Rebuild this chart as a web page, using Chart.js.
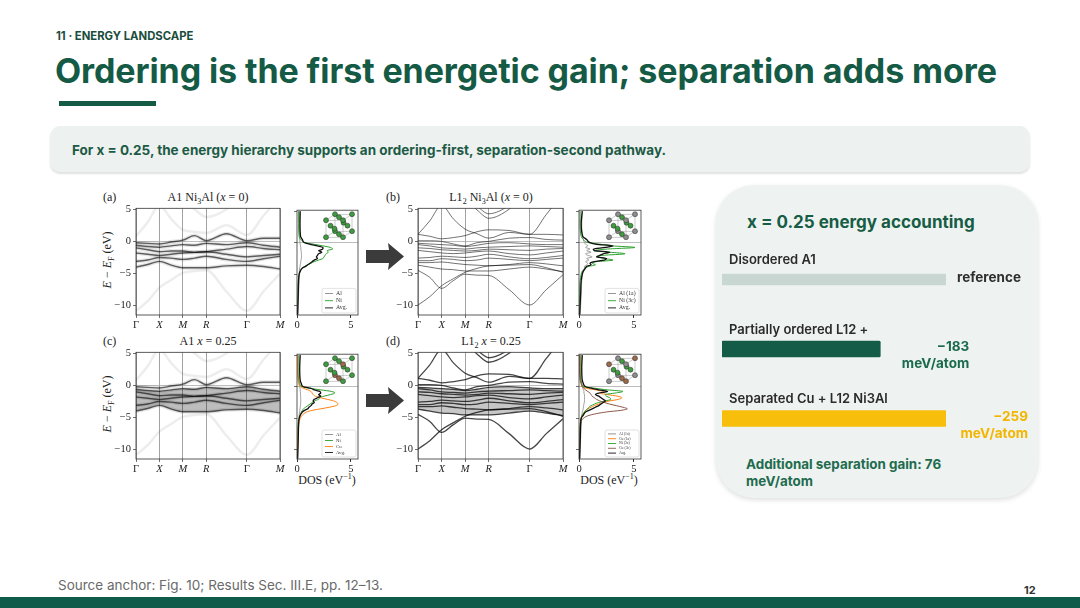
<!DOCTYPE html>
<html>
<head>
<meta charset="utf-8">
<script src="https://cdn.jsdelivr.net/npm/chart.js@4.4.1/dist/chart.umd.min.js"></script>
<style>
body{margin:0;width:1080px;height:608px;position:relative;overflow:hidden;background:#fff;font-family:Inter,'Noto Sans',sans-serif;}
.abs{position:absolute;white-space:nowrap;}
canvas{position:absolute;}
.fig{font-family:'Liberation Serif',serif;font-size:12px;color:#222;line-height:12px;}
.fig sub,.fig sup{font-size:8px;line-height:0;}
</style>
</head>
<body>
<div class="abs" style="left:56px;top:29px;font-size:11.3px;line-height:14px;font-weight:700;color:#1b4d3d">11 · ENERGY LANDSCAPE</div>
<div class="abs" style="left:55px;top:49px;font-size:34px;line-height:44px;font-weight:700;color:#145a45;letter-spacing:-0.1px">Ordering is the first energetic gain; separation adds more</div>
<div class="abs" style="left:59px;top:101px;width:97px;height:5px;background:#145a45"></div>
<div class="abs" style="left:50px;top:126px;width:980px;height:46px;border-radius:10px;background:#edf2f0;box-shadow:0 2px 2px rgba(0,0,0,0.12)"></div>
<div class="abs" style="left:72px;top:140px;font-size:13.5px;line-height:20px;font-weight:700;color:#1d5a45">For x = 0.25, the energy hierarchy supports an ordering-first, separation-second pathway.</div>

<div class="abs" style="left:716px;top:185px;width:322px;height:313px;border-radius:38px;background:#eef3f1;box-shadow:0 2px 5px rgba(0,0,0,0.13)"></div>
<div class="abs" style="left:747px;top:210px;font-size:17px;line-height:24px;font-weight:700;color:#175c45">x = 0.25 energy accounting</div>
<div class="abs" id="gainNote" style="left:746px;top:456px;font-size:13.4px;line-height:17px;font-weight:700;color:#1f6b4f"></div>

<div class="abs" style="left:58px;top:577px;font-size:13.5px;line-height:16px;color:#6a6a6a">Source anchor: Fig. 10; Results Sec. III.E, pp. 12–13.</div>
<div class="abs" style="left:1024px;top:583px;font-size:11px;line-height:14px;font-weight:700;color:#333">12</div>
<div class="abs" style="left:0;top:597px;width:1080px;height:11px;background:#0f5c4a"></div>

<!-- figure labels -->
<div class="abs fig" style="left:103px;top:191px">(a)</div>
<div class="abs fig" style="left:208px;top:191px;transform:translateX(-50%)">A1 Ni<sub>3</sub>Al (<i>x</i> = 0)</div>
<div class="abs fig" style="left:386px;top:191px">(b)</div>
<div class="abs fig" style="left:491px;top:191px;transform:translateX(-50%)">L1<sub>2</sub> Ni<sub>3</sub>Al (<i>x</i> = 0)</div>
<div class="abs fig" style="left:103px;top:335px">(c)</div>
<div class="abs fig" style="left:208px;top:335px;transform:translateX(-50%)">A1 <i>x</i> = 0.25</div>
<div class="abs fig" style="left:386px;top:335px">(d)</div>
<div class="abs fig" style="left:491px;top:335px;transform:translateX(-50%)">L1<sub>2</sub> <i>x</i> = 0.25</div>
<div class="abs fig" style="left:107px;top:260px;transform:translate(-50%,-50%) rotate(-90deg)"><i>E</i> − <i>E</i><sub>F</sub> (eV)</div>
<div class="abs fig" style="left:107px;top:404px;transform:translate(-50%,-50%) rotate(-90deg)"><i>E</i> − <i>E</i><sub>F</sub> (eV)</div>
<div class="abs fig" style="left:327px;top:474px;transform:translateX(-50%)">DOS (eV<sup>−1</sup>)</div>
<div class="abs fig" style="left:609px;top:474px;transform:translateX(-50%)">DOS (eV<sup>−1</sup>)</div>
<svg class="abs" style="left:360px;top:236px" width="50" height="180">
  <polygon points="6,14 29,14 28,7 44,20.5 28,34 29,27 6,27" fill="#3b3b3b"/>
  <polygon points="6,158 29,158 28,151 44,164.5 28,178 29,171 6,171" fill="#3b3b3b"/>
</svg>

<script>
// ---- energy accounting (x = 0.25) ----
const stages = ['Disordered A1', 'Partially ordered L12 +', 'Separated Cu + L12 Ni3Al'];
const energyGain = [0, -183, -259];   // meV/atom relative to disordered A1
const gainUnit = 'meV/atom';

// ---- band structure path ----
const kPath = [0, 0.25, 0.5, 0.75, 1.0, 1.25, 1.5, 1.93, 2.366, 2.72, 3.073];
const kTicks = [0, 0.5, 1.0, 1.5, 2.366, 3.073];
const kLabels = ['Γ', 'X', 'M', 'R', 'Γ', 'M'];
const eTicks = [5, 0, -5, -10];

// A1 (disordered) spectral bands, eV
const bandsA1 = [
  [-0.2, -0.3, -0.4, -0.1, 0.2, 0.9, 0.1, 1.2, 0.1, 0.5, 0.5],
  [-0.6, -0.8, -0.9, -0.7, -0.5, -0.6, -0.3, -0.5, -0.2, -0.6, -0.9],
  [-1.0, -1.3, -1.6, -1.5, -1.5, -1.7, -1.6, -1.2, -0.8, -1.1, -1.3],
  [-1.8, -2.0, -2.2, -2.0, -1.8, -1.7, -1.6, -2.0, -2.4, -2.2, -2.0],
  [-3.1, -2.9, -2.5, -2.6, -2.8, -2.6, -2.3, -2.8, -3.1, -2.7, -2.3],
  [-4.0, -3.6, -3.1, -3.7, -4.1, -4.1, -4.1, -3.8, -3.7, -3.9, -4.3]
];
const bandsA1Faint = [
  [-10.8, -9.3, -7.2, -6.0, -4.9, -4.6, -4.5, -7.8, -10.8, -7.8, -5.0],
  [0.8, 3.0, 5.6, 3.5, 1.8, 1.5, 1.3, 2.5, 1.0, 4.0, 7.0],
  [9, 9, 9, 8, 6.5, 5.0, 3.8, 5.0, 8, 9, 9]
];
// L12 (ordered) bands, eV
const bandsL12 = [
  [-9.9, -8.6, -6.9, -5.8, -4.8, -4.2, -3.8, -3.7, -3.6, -4.1, -4.8],
  [-4.5, -5.6, -7.3, -6.1, -5.1, -5.25, -5.3, -7.5, -9.9, -7.5, -5.2],
  [1.1, 3.2, 5.6, 3.5, 1.9, 1.2, 0.5, 1.4, 1.1, 1.1, 1.0],
  [1.1, 0.8, 0.4, 0.6, 0.9, 1.5, 1.8, 1.7, 1.1, 4.2, 7.5],
  [9, 9, 9, 8, 6.5, 4.9, 3.6, 5.0, 8, 9, 9],
  [9, 9, 9, 8.5, 7, 5.5, 4.3, 5.6, 8.5, 9, 9],
  [0.1, 0.1, 0.0, -0.4, -0.7, -0.2, 0.0, 0.5, 0.6, 0.3, 0.2],
  [-0.3, -0.4, -0.5, -0.6, -0.8, -0.6, -0.3, -0.2, -0.4, -0.5, -0.5],
  [-0.5, -0.7, -1.0, -1.1, -1.2, -1.0, -0.9, -0.8, -0.7, -0.8, -0.9],
  [-1.0, -1.1, -1.3, -1.4, -1.5, -1.4, -1.2, -1.3, -1.4, -1.2, -1.1],
  [-1.4, -1.6, -1.8, -1.9, -1.8, -1.6, -1.5, -1.9, -2.1, -1.8, -1.5],
  [-2.6, -2.5, -2.3, -2.4, -2.5, -2.3, -2.0, -2.4, -2.7, -2.5, -2.2],
  [-3.0, -3.0, -2.7, -2.8, -3.0, -2.9, -2.6, -2.8, -3.0, -2.8, -2.6],
  [-3.3, -3.3, -3.2, -3.4, -3.6, -3.7, -3.8, -3.6, -3.3, -3.5, -3.8],
  [-3.7, -4.0, -4.3, -4.4, -4.6, -4.6, -4.6, -4.3, -4.0, -4.3, -4.7]
];

// ---- projected DOS, eV^-1 ----
const dosE = [5, 3, 1, 0.5, 0, -0.25, -0.5, -0.75, -1, -1.25, -1.5, -1.75, -2, -2.25, -2.5, -2.75, -3, -3.25, -3.5, -3.75, -4, -4.5, -5, -6, -8, -10, -11.4];
const dosA_Al  = [0.25,0.22,0.22,0.25,0.28,0.3,0.32,0.35,0.36,0.38,0.4,0.4,0.42,0.42,0.4,0.38,0.35,0.33,0.3,0.28,0.25,0.22,0.2,0.18,0.15,0.12,0.1];
const dosA_Ni  = [0.15,0.15,0.2,0.35,0.8,1.6,2.4,3.1,3.3,2.8,2.9,2.7,2.6,2.5,2.4,2.0,1.6,1.3,1.0,0.7,0.5,0.3,0.2,0.12,0.08,0.05,0.03];
const dosA_Avg = [0.3,0.28,0.33,0.5,0.7,1.2,1.9,2.4,2.4,2.0,2.3,2.0,1.9,1.8,1.9,1.6,1.4,1.2,1.0,0.8,0.5,0.3,0.2,0.15,0.12,0.08,0.05];
const dosB_Al  = [0.3,0.25,0.3,0.4,0.5,0.6,0.8,0.6,1.0,0.7,1.1,0.6,0.8,1.2,0.7,0.9,0.6,0.8,0.7,0.5,0.5,0.35,0.3,0.25,0.2,0.15,0.1];
const dosB_Ni  = [0.1,0.1,0.2,0.4,0.9,2.0,3.0,5.1,2.6,1.5,2.8,4.2,2.2,1.8,2.3,3.1,1.6,1.2,1.5,0.9,0.6,0.3,0.2,0.1,0.06,0.04,0.03];
const dosB_Avg = [0.3,0.2,0.35,0.7,1.0,1.6,3.1,2.4,1.3,1.4,2.8,2.2,1.9,1.6,2.5,2.3,1.4,1.0,1.1,0.7,0.6,0.4,0.3,0.2,0.15,0.1,0.06];
const dosC_Al  = [0.2,0.2,0.2,0.22,0.25,0.28,0.3,0.3,0.32,0.33,0.33,0.34,0.35,0.35,0.34,0.33,0.32,0.3,0.28,0.26,0.24,0.2,0.18,0.15,0.12,0.1,0.08];
const dosC_Ni  = [0.1,0.1,0.15,0.25,0.5,1.2,2.2,3.2,3.5,3.1,2.5,2.1,2.0,1.6,1.4,1.2,1.0,0.8,0.6,0.5,0.4,0.3,0.2,0.1,0.06,0.04,0.03];
const dosC_Cu  = [0.05,0.05,0.1,0.15,0.3,0.6,1.0,1.3,1.4,1.5,1.7,2.2,2.8,3.4,3.7,3.8,3.6,3.0,2.2,1.4,0.9,0.5,0.3,0.15,0.08,0.05,0.03];
const dosC_Avg = [0.3,0.25,0.3,0.4,0.6,1.3,1.6,2.1,2.2,2.0,2.2,1.9,1.6,1.5,1.6,1.4,1.3,1.1,1.0,0.7,0.5,0.3,0.2,0.15,0.12,0.08,0.05];
const dosD_Al   = [0.2,0.2,0.2,0.25,0.3,0.35,0.4,0.45,0.45,0.5,0.5,0.5,0.5,0.5,0.48,0.45,0.42,0.4,0.38,0.35,0.3,0.25,0.2,0.18,0.15,0.12,0.1];
const dosD_Cu1a = [0.1,0.1,0.15,0.2,0.3,0.7,1.5,2.2,1.9,2.6,3.5,3.9,3.6,2.8,2.2,1.8,1.4,1.1,0.8,0.6,0.5,0.3,0.2,0.1,0.06,0.04,0.03];
const dosD_Ni   = [0.1,0.1,0.15,0.25,0.5,1.5,2.6,4.0,3.3,2.4,2.5,2.8,2.9,2.4,1.8,1.4,1.1,0.9,0.8,0.6,0.5,0.3,0.2,0.1,0.06,0.04,0.03];
const dosD_Cu3c = [0.05,0.05,0.1,0.2,0.3,0.45,0.6,0.8,1.0,1.1,1.2,1.4,1.6,1.9,2.3,2.8,3.4,4.0,4.4,3.8,2.5,1.0,0.4,0.15,0.08,0.05,0.03];
const dosD_Avg  = [0.3,0.25,0.3,0.4,0.6,1.2,1.8,2.6,1.8,1.5,1.8,2.0,2.2,2.4,2.2,2.0,1.8,1.5,1.2,0.9,0.6,0.4,0.2,0.15,0.12,0.08,0.05];

const eMin = -11.45, eMax = 5.15, dosMax = 5.65;
const serif = 'Liberation Serif';
Chart.defaults.font.family = 'Inter';

function mk(left, top, w, h){
  var c = document.createElement('canvas');
  c.width = w; c.height = h;
  c.style.left = left + 'px'; c.style.top = top + 'px';
  c.style.width = w + 'px'; c.style.height = h + 'px';
  document.body.appendChild(c);
  return c;
}

const framePlugin = {
  id: 'frame',
  afterDatasetsDraw(chart){
    var a = chart.chartArea, ctx = chart.ctx;
    ctx.save();
    ctx.strokeStyle = '#333'; ctx.lineWidth = 0.8;
    ctx.strokeRect(a.left, a.top, a.right - a.left, a.bottom - a.top);
    ctx.restore();
  }
};

// small legend box in the corner of a DOS panel
const dosLegend = {
  id: 'dosLegend',
  afterDatasetsDraw(chart){
    var a = chart.chartArea, ctx = chart.ctx;
    var sets = chart.data.datasets;
    var n = sets.length;
    var rowH = Math.min(7.2, 24 / n);
    var w = 34, h = rowH * n + 3;
    var x0 = a.right - w - 2, y0 = a.bottom - h - 2;
    ctx.save();
    ctx.fillStyle = 'rgba(255,255,255,0.9)';
    ctx.strokeStyle = '#cfcfcf'; ctx.lineWidth = 0.6;
    ctx.beginPath(); ctx.roundRect(x0, y0, w, h, 2); ctx.fill(); ctx.stroke();
    ctx.font = (rowH * 0.8).toFixed(1) + 'px "' + serif + '"';
    ctx.textBaseline = 'middle';
    sets.forEach(function(ds, i){
      var y = y0 + 1.5 + rowH * (i + 0.5);
      ctx.strokeStyle = ds.borderColor; ctx.lineWidth = 0.9;
      ctx.beginPath(); ctx.moveTo(x0 + 3, y); ctx.lineTo(x0 + 11, y); ctx.stroke();
      ctx.fillStyle = '#333';
      ctx.fillText(ds.label, x0 + 14, y);
    });
    ctx.restore();
  }
};

// unit cell sketch in the top corner of a DOS panel
const crystal = {
  id: 'crystal',
  afterDatasetsDraw(chart, args, opts){
    if (!opts || !opts.colors) return;
    var a = chart.chartArea, ctx = chart.ctx;
    var s = 17, dx = 9, dy = 6;
    var x0 = a.right - 6 - s - dx, y0 = a.top + 4 + dy;
    var front = [[0,0],[s,0],[0,s],[s,s]];
    ctx.save();
    ctx.strokeStyle = '#999'; ctx.lineWidth = 0.5;
    front.forEach(function(p){
      ctx.beginPath(); ctx.moveTo(x0 + p[0], y0 + p[1]); ctx.lineTo(x0 + p[0] + dx, y0 + p[1] - dy); ctx.stroke();
    });
    ctx.strokeRect(x0, y0, s, s);
    ctx.strokeRect(x0 + dx, y0 - dy, s, s);
    var h = s / 2;
    var pts = [[dx,-dy],[s+dx,-dy],[dx,s-dy],[s+dx,s-dy],[h+dx,h-dy],
               [h+dx/2,-dy/2],[h+dx/2,s-dy/2],[dx/2,h-dy/2],[s+dx/2,h-dy/2],
               [h,h],[0,0],[s,0],[0,s],[s,s]];
    pts.forEach(function(p, i){
      ctx.beginPath(); ctx.arc(x0 + p[0], y0 + p[1], 2.5, 0, Math.PI * 2);
      ctx.fillStyle = opts.colors[i % opts.colors.length]; ctx.fill();
      ctx.strokeStyle = '#2a2a2a'; ctx.lineWidth = 0.5; ctx.stroke();
    });
    ctx.restore();
  }
};

function lineSet(band, color, width, extra){
  return Object.assign({
    data: kPath.map(function(k, i){ return {x: k, y: band[i]}; }),
    borderColor: color, borderWidth: width, pointRadius: 0, fill: false, clip: 0
  }, extra || {});
}

function bandChart(box, datasets){
  var padL = 36, padT = 4, padR = 8, padB = 16;
  var c = mk(box.left - padL, box.top - padT, box.w + padL + padR, box.h + padT + padB);
  return new Chart(c, {
    type: 'line',
    data: {datasets: datasets},
    options: {
      responsive: false, animation: false, events: [],
      layout: {padding: {top: padT, right: padR, left: 0, bottom: 0}},
      plugins: {legend: {display: false}, tooltip: {enabled: false}},
      elements: {line: {cubicInterpolationMode: 'monotone'}},
      scales: {
        x: {
          type: 'linear', min: 0, max: kTicks[kTicks.length - 1],
          afterBuildTicks: function(s){ s.ticks = kTicks.map(function(v){ return {value: v}; }); },
          afterFit: function(s){ s.height = padB; },
          ticks: {
            autoSkip: false, maxRotation: 0, padding: 1, color: '#222',
            font: function(ctx){ return {family: serif, size: 10.5, style: kLabels[ctx.index] === 'Γ' ? 'normal' : 'italic'}; },
            callback: function(v, i){ return kLabels[i]; }
          },
          grid: {color: '#7a7a7a', lineWidth: 0.7, tickLength: 3, tickColor: '#333'},
          border: {display: false}
        },
        y: {
          type: 'linear', min: eMin, max: eMax,
          afterBuildTicks: function(s){ s.ticks = eTicks.map(function(v){ return {value: v}; }); },
          afterFit: function(s){ s.width = padL; },
          ticks: {
            padding: 2, color: '#222', font: {family: serif, size: 10.5},
            callback: function(v){ return v < 0 ? '−' + Math.abs(v) : String(v); }
          },
          grid: {
            color: function(ctx){ return ctx.tick && ctx.tick.value === 0 ? '#a0a0a0' : 'rgba(0,0,0,0)'; },
            lineWidth: 0.7, tickLength: 3, tickColor: '#333'
          },
          border: {display: false}
        }
      }
    },
    plugins: [framePlugin]
  });
}

function dosSet(label, vals, color, width, order){
  return {
    label: label,
    data: dosE.map(function(e, i){ return {x: vals[i], y: e}; }),
    borderColor: color, borderWidth: width, pointRadius: 0, fill: false, clip: 0, order: order
  };
}

function dosChart(box, datasets, atomColors){
  var padL = 4, padT = 4, padR = 4, padB = 16;
  var c = mk(box.left - padL, box.top - padT, box.w + padL + padR, box.h + padT + padB);
  return new Chart(c, {
    type: 'line',
    data: {datasets: datasets},
    options: {
      indexAxis: 'y',
      responsive: false, animation: false, events: [],
      layout: {padding: {top: padT, right: padR, left: 0, bottom: 0}},
      plugins: {legend: {display: false}, tooltip: {enabled: false}, crystal: {colors: atomColors}},
      elements: {line: {cubicInterpolationMode: 'monotone'}},
      scales: {
        x: {
          type: 'linear', min: 0, max: dosMax,
          afterBuildTicks: function(s){ s.ticks = [{value: 0}, {value: 5}]; },
          afterFit: function(s){ s.height = padB; },
          ticks: {padding: 1, color: '#222', font: {family: serif, size: 10.5}, maxRotation: 0},
          grid: {display: true, drawOnChartArea: false, tickLength: 3, tickColor: '#333'},
          border: {display: false}
        },
        y: {
          type: 'linear', min: eMin, max: eMax,
          afterBuildTicks: function(s){ s.ticks = eTicks.map(function(v){ return {value: v}; }); },
          afterFit: function(s){ s.width = padL; },
          ticks: {callback: function(){ return ''; }},
          grid: {
            color: function(ctx){ return ctx.tick && ctx.tick.value === 0 ? '#a0a0a0' : 'rgba(0,0,0,0)'; },
            lineWidth: 0.7, tickLength: 3, tickColor: '#333'
          },
          border: {display: false}
        }
      }
    },
    plugins: [framePlugin, dosLegend, crystal]
  });
}

// band panel datasets
function a1Sets(smear){
  var out = [];
  if (smear) {
    out.push(lineSet(bandsA1[1], 'rgba(0,0,0,0)', 0, {fill: '+1', backgroundColor: 'rgba(0,0,0,0.26)'}));
    out.push(lineSet(bandsA1[5], 'rgba(0,0,0,0)', 0));
  }
  bandsA1Faint.forEach(function(b){ out.push(lineSet(b, 'rgba(0,0,0,0.07)', 2.5)); });
  bandsA1.forEach(function(b){
    out.push(lineSet(b, 'rgba(0,0,0,0.1)', 4));
    out.push(lineSet(b, 'rgba(0,0,0,0.6)', 1.4));
  });
  return out;
}
function l12Sets(smear){
  var out = [];
  if (smear) {
    out.push(lineSet(bandsL12[7], 'rgba(0,0,0,0)', 0, {fill: '+1', backgroundColor: 'rgba(0,0,0,0.22)'}));
    out.push(lineSet(bandsL12[14], 'rgba(0,0,0,0)', 0));
    bandsL12.forEach(function(b){ out.push(lineSet(b, 'rgba(0,0,0,0.72)', 1.3)); });
  } else {
    bandsL12.forEach(function(b){ out.push(lineSet(b, 'rgba(0,0,0,0.62)', 0.9)); });
  }
  return out;
}

var rowTop = [204, 348], bandH = 111;
bandChart({left: 136, top: rowTop[0], w: 144, h: bandH}, a1Sets(false));
bandChart({left: 418, top: rowTop[0], w: 145, h: bandH}, l12Sets(false));
bandChart({left: 136, top: rowTop[1], w: 144, h: bandH}, a1Sets(true));
bandChart({left: 418, top: rowTop[1], w: 145, h: bandH}, l12Sets(true));

var cAl = '#8a8a8a', cNi = '#2ca02c', cCu = '#ff7f0e', cCu3 = '#8c564b', cAvg = '#111';
var g = '#3f9b3f', gr = '#8d8d8d', br = '#9a6a4a';
dosChart({left: 297, top: rowTop[0], w: 61, h: bandH}, [
  dosSet('Al', dosA_Al, cAl, 0.8, 3), dosSet('Ni', dosA_Ni, cNi, 1, 2), dosSet('Avg.', dosA_Avg, cAvg, 1.3, 0)
], [g]);
dosChart({left: 579, top: rowTop[0], w: 62, h: bandH}, [
  dosSet('Al (1a)', dosB_Al, cAl, 0.8, 3), dosSet('Ni (3c)', dosB_Ni, cNi, 1, 2), dosSet('Avg.', dosB_Avg, cAvg, 1.3, 0)
], [gr, gr, gr, gr, g, g, g, g, g, g, gr, gr, gr, gr]);
dosChart({left: 297, top: rowTop[1], w: 61, h: bandH}, [
  dosSet('Al', dosC_Al, cAl, 0.8, 4), dosSet('Ni', dosC_Ni, cNi, 1, 3), dosSet('Cu', dosC_Cu, cCu, 1, 2), dosSet('Avg.', dosC_Avg, cAvg, 1.3, 0)
], [g, g, br, g, g, g, br, g, g, g, g, br, g, g]);
dosChart({left: 579, top: rowTop[1], w: 62, h: bandH}, [
  dosSet('Al (1a)', dosD_Al, cAl, 0.8, 5), dosSet('Cu (1a)', dosD_Cu1a, cCu, 1, 4), dosSet('Ni (3c)', dosD_Ni, cNi, 1, 3),
  dosSet('Cu (3c)', dosD_Cu3c, cCu3, 1, 2), dosSet('Avg.', dosD_Avg, cAvg, 1.3, 0)
], [gr, br, gr, gr, g, g, br, g, g, g, br, gr, gr, br]);

// ---- energy accounting bars ----
const span = Math.max.apply(null, energyGain.map(Math.abs));
const barLen = energyGain.map(function(e){ return e === 0 ? span : Math.abs(e); });
const barColors = ['#c9d7d2', '#145c47', '#f7be0b'];
const valueColors = ['#2e2e2e', '#1b6a4e', '#f2b500'];
const thick = [11, 16, 16];

document.getElementById('gainNote').innerHTML =
  'Additional separation gain: ' + (energyGain[1] - energyGain[2]) + '<br>' + gainUnit;

const barLabels = {
  id: 'barLabels',
  afterDatasetsDraw(chart){
    var ctx = chart.ctx, a = chart.chartArea;
    ctx.save();
    stages.forEach(function(name, i){
      var bar = chart.getDatasetMeta(i).data[i];
      ctx.textBaseline = 'middle';
      ctx.textAlign = 'left';
      ctx.fillStyle = '#2b2b2b';
      ctx.font = '600 13px Inter';
      ctx.fillText(name, a.left + 7, bar.y - 19);
      ctx.font = '700 13.5px Inter';
      ctx.fillStyle = valueColors[i];
      if (energyGain[i] === 0) {
        ctx.fillText('reference', bar.x + 11, bar.y - 2);
      } else {
        var right = Math.min(bar.x + 89, chart.width - 10);
        ctx.textAlign = 'right';
        ctx.fillText('−' + Math.abs(energyGain[i]), right, bar.y - 2);
        ctx.fillText(gainUnit, right, bar.y + 15);
      }
    });
    ctx.restore();
  }
};

new Chart(mk(716, 240, 322, 220), {
  type: 'bar',
  data: {
    labels: stages,
    datasets: stages.map(function(name, i){
      return {
        label: name,
        data: stages.map(function(_, j){ return j === i ? barLen[i] : null; }),
        backgroundColor: barColors[i],
        barThickness: thick[i],
        borderRadius: 1.5,
        borderSkipped: false,
        grouped: false
      };
    })
  },
  options: {
    indexAxis: 'y',
    responsive: false, animation: false, events: [],
    layout: {padding: {left: 6, right: 92, top: 4.75, bottom: 6.75}},
    plugins: {legend: {display: false}, tooltip: {enabled: false}},
    scales: {
      x: {display: false, min: 0, max: span},
      y: {display: false, offset: true}
    }
  },
  plugins: [barLabels]
});
</script>
</body>
</html>
